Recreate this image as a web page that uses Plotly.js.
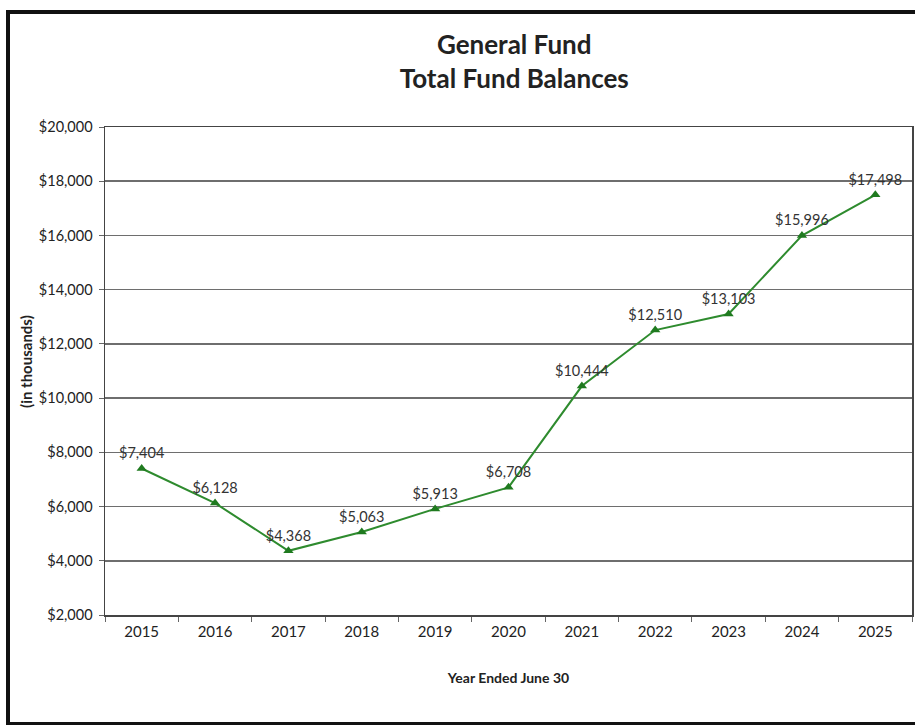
<!DOCTYPE html>
<html>
<head>
<meta charset="utf-8">
<script src="https://cdn.plot.ly/plotly-3.0.1.min.js"></script>
<style>
  html, body { margin: 0; padding: 0; background: #ffffff; }
  #wrap { position: relative; width: 915px; height: 725px; overflow: hidden; }
  #chart { width: 915px; height: 725px; }
  #frame { position: absolute; left: 6px; top: 10px; width: 930px; height: 708px;
           border: 4px solid #111; pointer-events: none; }
</style>
</head>
<body>
<div id="wrap">
  <div id="chart"></div>
  <div id="frame"></div>
</div>
<script>
const years = ['2015','2016','2017','2018','2019','2020','2021','2022','2023','2024','2025'];
const balances = [7404, 6128, 4368, 5063, 5913, 6708, 10444, 12510, 13103, 15996, 17498];
const yTickVals = [2000, 4000, 6000, 8000, 10000, 12000, 14000, 16000, 18000, 20000];

const labelText = balances.map(v => '$' + v.toLocaleString('en-US'));
const fontFam = 'Lato, "Open Sans", sans-serif';

const trace = {
  type: 'scatter',
  mode: 'lines+markers+text',
  x: years,
  y: balances,
  text: labelText,
  textposition: 'top center',
  textfont: { family: fontFam, size: 14.5, color: '#333' },
  line: { color: '#2e8b2e', width: 2 },
  marker: { symbol: 'triangle-up', size: 9, color: '#1f7a1f' },
  cliponaxis: false,
  hoverinfo: 'x+y'
};

const layout = {
  width: 915, height: 725,
  margin: { l: 105, r: 3, t: 127, b: 110 },
  paper_bgcolor: '#ffffff',
  plot_bgcolor: '#ffffff',
  showlegend: false,
  font: { family: fontFam, color: '#222' },
  title: {
    text: '<b>General Fund</b><br><b>Total Fund Balances</b>',
    font: { family: fontFam, size: 26, color: '#222' },
    xref: 'container', x: 0.562, xanchor: 'center',
    yref: 'container', y: 0.925, yanchor: 'middle'
  },
  xaxis: {
    type: 'category',
    range: [-0.5, 10.5],
    showgrid: false,
    showline: true, linecolor: '#444', linewidth: 1.5,
    mirror: true,
    ticks: 'outside', tickson: 'boundaries', ticklen: 5, tickcolor: '#666',
    ticklabelstandoff: 2,
    tickfont: { family: fontFam, size: 15, color: '#222' },
    title: { text: '<b>Year Ended June 30</b>', font: { family: fontFam, size: 14, color: '#222' }, standoff: 34 },
    fixedrange: true
  },
  yaxis: {
    range: [2000, 20000],
    tickvals: yTickVals,
    ticktext: yTickVals.map(v => '$' + v.toLocaleString('en-US')),
    showgrid: true, gridcolor: '#6e6e6e', gridwidth: 1.5,
    showline: true, linecolor: '#444', linewidth: 1.5,
    mirror: true,
    zeroline: false,
    ticks: 'outside', ticklen: 5, tickcolor: '#666',
    ticklabelstandoff: 3,
    tickfont: { family: fontFam, size: 14.5, color: '#222' },
    fixedrange: true
  },
  annotations: [{
    text: '<b>(in thousands)</b>',
    xref: 'paper', yref: 'paper',
    x: -0.097, y: 0.52,
    xanchor: 'center', yanchor: 'middle',
    textangle: -90, showarrow: false,
    font: { family: fontFam, size: 15, color: '#222' }
  }]
};

Plotly.newPlot('chart', [trace], layout, { displayModeBar: false, staticPlot: true });
</script>
</body>
</html>
